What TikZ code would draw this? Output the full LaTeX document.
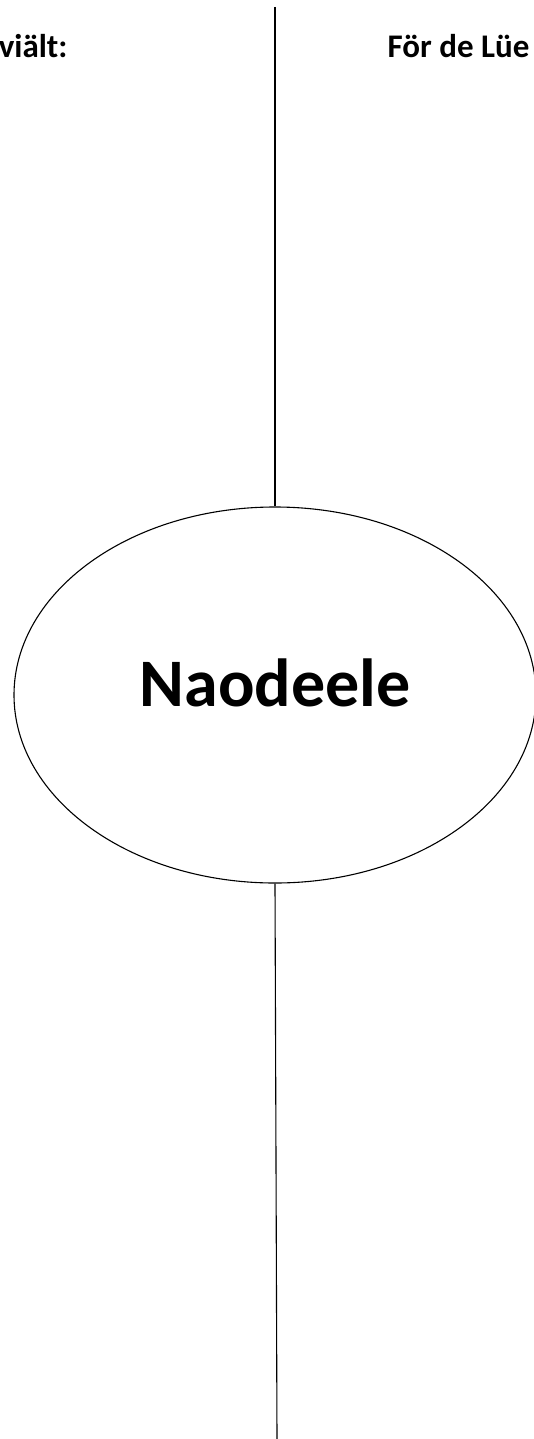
\documentclass[tikz,border=0pt]{standalone}
\usepackage{fontspec}
\setmainfont{Carlito}
\usetikzlibrary{positioning,shapes.geometric}

\begin{document}
\begin{tikzpicture}[x=1pt, y=-1pt, line width=1.1pt,
    kopp/.style={font=\bfseries\fontsize{33}{40}\selectfont, inner sep=0pt},
    titel/.style={font=\bfseries\fontsize{68}{80}\selectfont, inner sep=0pt},
    midde/.style={ellipse, draw, minimum width=522pt, minimum height=376pt, inner sep=0pt}]
    \useasboundingbox (0,0) rectangle (534,1439);

    \node[midde] (deel) at (275,695) {};
    \node[titel] (naam) at ([yshift=12pt]deel.center) {Naodeele};
    \coordinate (boven) at (275,7);
    \coordinate (onder) at (277,1439);

    \node[kopp, anchor=base east] (links) at (68,58) {viält:};
    \node[kopp, anchor=base east] (rechts) at (530,58) {För de Lüe};

    % scheedlinie
    \draw (boven) -- (deel.north);
    \draw (deel.south) -- (onder);
\end{tikzpicture}
\end{document}
